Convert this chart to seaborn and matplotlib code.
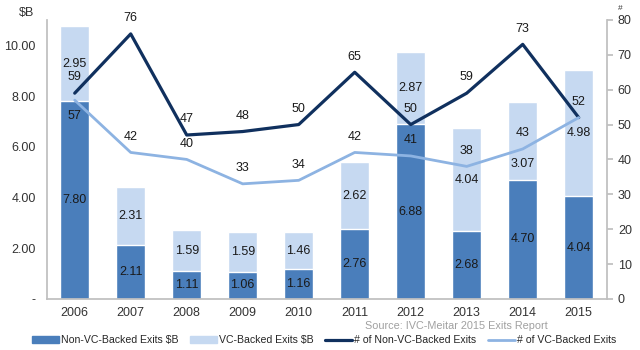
import numpy as np
import pandas as pd
import matplotlib
matplotlib.use("Agg")
import matplotlib.pyplot as plt
import seaborn as sns
from matplotlib.patches import Patch
from matplotlib.lines import Line2D

years = ["2006", "2007", "2008", "2009", "2010", "2011", "2012", "2013", "2014", "2015"]
non_vc_usd = [7.80, 2.11, 1.11, 1.06, 1.16, 2.76, 6.88, 2.68, 4.70, 4.04]
vc_usd = [2.95, 2.31, 1.59, 1.59, 1.46, 2.62, 2.87, 4.04, 3.07, 4.98]
non_vc_count = [59, 76, 47, 48, 50, 65, 50, 59, 73, 52]
vc_count = [57, 42, 40, 33, 34, 42, 41, 38, 43, 52]

dark_bar = "#4a7ebb"
light_bar = "#c6d9f1"
dark_line = "#10305e"
light_line = "#8db3e2"
grey = "#bfbfbf"

df = pd.DataFrame({"year": years, "non_vc": non_vc_usd, "vc": vc_usd,
                   "n_non_vc": non_vc_count, "n_vc": vc_count})
df["total"] = df["non_vc"] + df["vc"]

sns.set_theme(style="white")
plt.rcParams["font.family"] = ["Liberation Sans", "DejaVu Sans"]

fig = plt.figure(figsize=(6.4, 3.5), dpi=100)
ax = fig.add_axes([0.073, 0.146, 0.875, 0.797])

sns.barplot(data=df, x="year", y="total", color=light_bar, width=0.52,
            saturation=1, ax=ax)
sns.barplot(data=df, x="year", y="non_vc", color=dark_bar, width=0.52,
            saturation=1, ax=ax)

for i, r in df.iterrows():
    ax.text(i, r["non_vc"] / 2, f"{r['non_vc']:.2f}", ha="center", va="center",
            fontsize=9, color="#1a1a1a")
    # excel nudged the 2014 label down to clear the line label
    frac = 0.2 if r["year"] == "2014" else 0.5
    ax.text(i, r["non_vc"] + r["vc"] * frac, f"{r['vc']:.2f}", ha="center",
            va="center", fontsize=9, color="#1a1a1a")

ax.set_ylim(0, 11)
ax.set_yticks([0, 2, 4, 6, 8, 10])
ax.set_yticklabels(["-", "2.00", "4.00", "6.00", "8.00", "10.00"])
ax.set_xlabel("")
ax.set_ylabel("")
ax.set_xlim(-0.5, len(years) - 0.5)
ax.tick_params(axis="y", length=0, labelsize=9, colors="#333333", pad=8)
ax.tick_params(axis="x", which="major", length=0, labelsize=9, colors="#333333", pad=6)
ax.set_xticks(np.arange(len(years) + 1) - 0.5, minor=True)
ax.tick_params(axis="x", which="minor", length=4, color=grey, width=1)
for s in ["top", "right"]:
    ax.spines[s].set_visible(False)
for s in ["left", "bottom"]:
    ax.spines[s].set_color(grey)

ax2 = ax.twinx()
ax2.plot(np.arange(len(years)), non_vc_count, color=dark_line, lw=2.3)
ax2.plot(np.arange(len(years)), vc_count, color=light_line, lw=2.0)
for i in range(len(years)):
    ax2.annotate(str(non_vc_count[i]), (i, non_vc_count[i]), xytext=(0, 7),
                 textcoords="offset points", ha="center", va="bottom",
                 fontsize=9, color="#1a1a1a")
    if vc_count[i] == non_vc_count[i]:
        continue
    off = -7 if i == 0 else 7
    ax2.annotate(str(vc_count[i]), (i, vc_count[i]), xytext=(0, off),
                 textcoords="offset points", ha="center",
                 va="top" if off < 0 else "bottom", fontsize=9, color="#1a1a1a")
ax2.set_ylim(0, 80)
ax2.set_yticks(range(0, 81, 10))
ax2.tick_params(axis="y", length=4, color=grey, labelsize=9, colors="#333333", pad=4)
ax2.tick_params(axis="y", color=grey)
for s in ["top", "left", "bottom"]:
    ax2.spines[s].set_visible(False)
ax2.spines["right"].set_color(grey)
ax2.grid(False)
ax.grid(False)

fig.text(0.03, 0.945, "$B", fontsize=9, color="#333333", ha="left", va="bottom")
fig.text(0.965, 0.965, "#", fontsize=6, color="#333333", ha="left", va="bottom")
fig.text(0.713, 0.068, "Source: IVC-Meitar 2015 Exits Report", fontsize=7.8,
         color="#a0a0a0", ha="center", va="center")

handles = [
    Patch(color=dark_bar, label="Non-VC-Backed Exits $B"),
    Patch(color=light_bar, label="VC-Backed Exits $B"),
    Line2D([], [], color=dark_line, lw=2.3, label="# of Non-VC-Backed Exits"),
    Line2D([], [], color=light_line, lw=2.0, label="# of VC-Backed Exits"),
]
fig.legend(handles=handles, loc="center", bbox_to_anchor=(0.506, 0.028),
           ncol=4, frameon=False, fontsize=7.6, handlelength=2.6,
           handleheight=0.7, handletextpad=0.15, columnspacing=1.1,
           borderaxespad=0, borderpad=0)

fig.savefig("out.png", dpi=100)
